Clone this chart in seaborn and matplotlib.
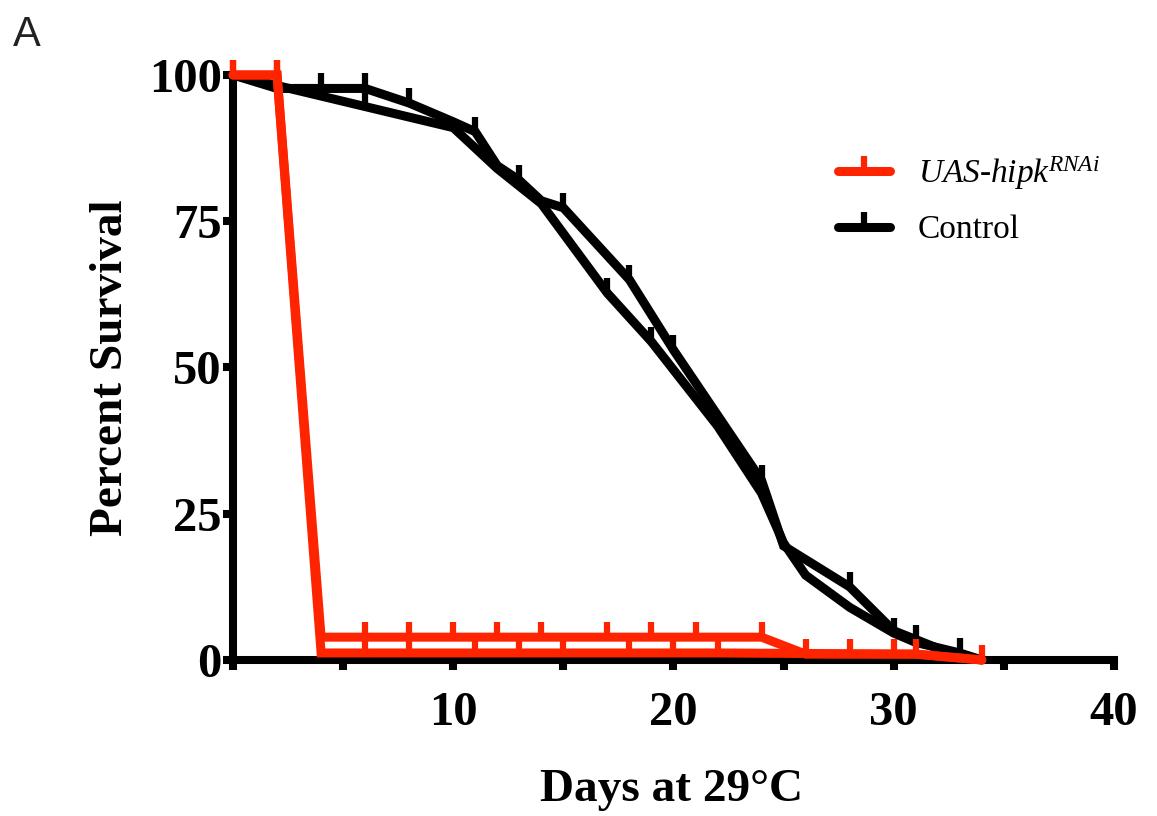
import matplotlib
matplotlib.use("Agg")
import matplotlib.pyplot as plt
from matplotlib.lines import Line2D
import seaborn as sns

# survival data (days, percent surviving), two replicates per genotype
rnai_a_days = [0, 2, 4, 6, 8, 10, 12, 14, 17, 19, 21, 24, 26, 28, 30, 31, 34]
rnai_a_surv = [100, 100, 3.9, 3.9, 3.9, 3.9, 3.9, 3.9, 3.9, 3.9, 3.9, 3.9, 1.0, 1.0, 1.0, 1.0, 0]
rnai_a_cens = [0, 2, 6, 8, 10, 12, 14, 17, 19, 21, 24, 26, 28, 30, 31, 34]

rnai_b_days = [0, 2, 4, 6, 8, 11, 13, 15, 18, 20, 22, 31, 34]
rnai_b_surv = [100, 100, 1.2, 1.2, 1.2, 1.2, 1.2, 1.2, 1.2, 1.2, 1.2, 1.0, 0]
rnai_b_cens = [0, 2, 6, 8, 11, 13, 15, 18, 20, 22]

ctrl_a_days = [0, 2, 4, 6, 8, 10, 11, 12, 13, 14, 15, 18, 20, 24, 25, 28, 30, 31, 33]
ctrl_a_surv = [100, 97.7, 97.7, 97.7, 95.2, 92.0, 90.3, 84.5, 82.0, 78.5, 77.3, 65.0, 53.0, 30.7, 19.5, 12.5, 5.0, 3.5, 0.5]
ctrl_a_cens = [4, 6, 8, 11, 13, 15, 18, 20, 24, 28, 31]

ctrl_b_days = [0, 6, 10, 12, 14, 17, 19, 22, 24, 25, 26, 28, 30, 31, 33, 34]
ctrl_b_surv = [100, 94.6, 91.0, 84.0, 78.0, 62.7, 54.4, 40.0, 28.5, 20.0, 14.5, 9.0, 4.6, 3.0, 1.2, 0]
ctrl_b_cens = [6, 17, 19, 30, 33]

labels = ["UAS-hipk$^{RNAi}$", "Control"]
RED = "#ff2400"
BLACK = "#000000"

sns.set_theme(style="ticks")
plt.rcParams["font.family"] = ["Liberation Serif", "DejaVu Serif"]
plt.rcParams["text.color"] = "black"
plt.rcParams["xtick.color"] = "black"
plt.rcParams["ytick.color"] = "black"
plt.rcParams["axes.labelcolor"] = "black"
plt.rcParams["mathtext.fontset"] = "custom"
plt.rcParams["mathtext.rm"] = "Liberation Serif"
plt.rcParams["mathtext.it"] = "Liberation Serif:italic"
plt.rcParams["mathtext.default"] = "it"

fig = plt.figure(figsize=(11.57, 8.16), dpi=100)
ax = fig.add_axes([0.2014, 0.1912, 0.7614, 0.7169])

lw = 6.5
series = [
    (ctrl_a_days, ctrl_a_surv, ctrl_a_cens, BLACK),
    (ctrl_b_days, ctrl_b_surv, ctrl_b_cens, BLACK),
    (rnai_a_days, rnai_a_surv, rnai_a_cens, RED),
    (rnai_b_days, rnai_b_surv, rnai_b_cens, RED),
]
for i, (d, s, c, col) in enumerate(series):
    idx = [d.index(v) for v in c]
    sns.lineplot(x=d, y=s, ax=ax, color=col, lw=lw, sort=False, estimator=None,
                 marker=2, markevery=idx, markersize=11, markeredgewidth=4.5,
                 markeredgecolor=col, markerfacecolor=col, clip_on=False,
                 zorder=3 + i, solid_joinstyle="miter")

ax.set_xlim(0, 40)
ax.set_ylim(0, 100)
ax.set_xticks(range(0, 41, 5))
ax.set_xticklabels(["", "", "10", "", "20", "", "30", "", "40"])
ax.set_yticks([0, 25, 50, 75, 100])
ax.set_yticklabels(["0", "25", "50", "75", "100"])

for side in ["top", "right"]:
    ax.spines[side].set_visible(False)
for side in ["left", "bottom"]:
    ax.spines[side].set_linewidth(5.8)
    ax.spines[side].set_color("black")
    ax.spines[side].set_capstyle("projecting")

ax.tick_params(axis="both", length=7, width=5.8, color="black", labelcolor="black", labelsize=35)
ax.tick_params(axis="y", pad=1)
ax.tick_params(axis="x", pad=15)
for t in ax.get_xticklabels() + ax.get_yticklabels():
    t.set_fontweight("bold")

ax.set_ylabel("Percent Survival", fontsize=34, fontweight="bold", va="center")
ax.yaxis.set_label_coords(-0.138, 0.5)
ax.set_xlabel("Days at 29°C", fontsize=34, fontweight="bold", va="center")
ax.xaxis.set_label_coords(0.498, -0.222)

handles = [
    Line2D([], [], color=RED, lw=lw, marker=2, markersize=11, markeredgewidth=4.5,
           solid_capstyle="round"),
    Line2D([], [], color=BLACK, lw=lw, marker=2, markersize=11, markeredgewidth=4.5,
           solid_capstyle="round"),
]
leg = fig.legend(handles, labels, loc="upper left", bbox_to_anchor=(808 / 1157, 1 - 124 / 816),
                 frameon=False, fontsize=24, handlelength=1.55, labelspacing=0.7,
                 handletextpad=0.85)
leg.get_texts()[0].set_fontstyle("italic")

fig.text(0.011, 0.982, "A", fontsize=30, family="Liberation Sans", color="#222222",
         va="top", ha="left")

fig.savefig("out.png", dpi=100)
